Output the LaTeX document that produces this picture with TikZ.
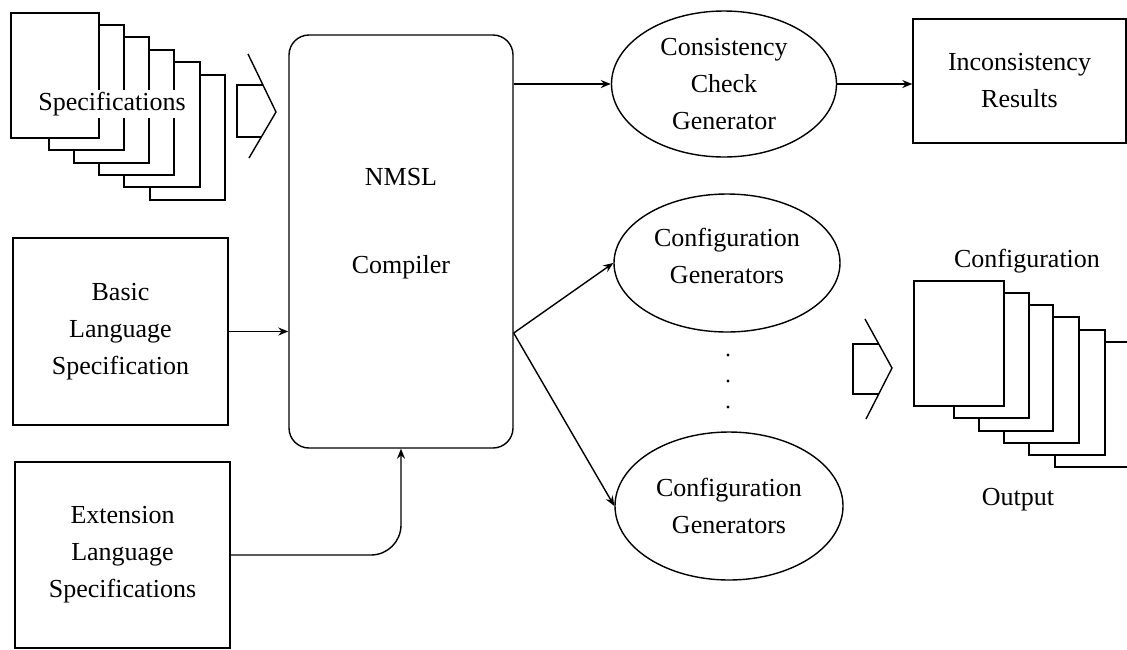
\documentclass[tikz,border=0pt]{standalone}
\usepackage{fontspec}
\setmainfont{Liberation Serif}
\usetikzlibrary{arrows.meta,shapes.geometric,calc}
\begin{document}
\begin{tikzpicture}[x=1pt,y=-1pt, line width=1.4pt,
  font=\fontsize{26}{37}\selectfont,
  box/.style={draw, rectangle, inner sep=0pt, align=center},
  oval/.style={draw, ellipse, inner sep=0pt, align=center},
  page/.style={draw, fill=white},
  chev/.style={draw, line join=miter},
  arr/.style={-{Stealth[length=10pt,width=8pt]}},
  lbl/.style={inner sep=0pt}]
\useasboundingbox (0,0) rectangle (1127,649);

% Specifications stack
\draw[page] (150,75) rectangle (225,200);
\draw[page] (124,62) rectangle (200,187);
\draw[page] (99,50) rectangle (174,175);
\draw[page] (74,37) rectangle (149,163);
\draw[page] (49,25) rectangle (124,150);
\draw[page] (11,13) rectangle (99,138);
\node[lbl, fill=white, inner xsep=1pt, inner ysep=2pt, anchor=base] (spec) at (112,110) {Specifications};

% chevron left
\draw[chev] (248,54) -- (276,112) -- (249,158);
\draw[chev] (263,85) -- (237,85) -- (237,137) -- (261,137);

% compiler
\node[draw, rounded corners=20pt, minimum width=224pt, minimum height=413pt, inner sep=0pt] (comp) at (401,241.5) {};
\node[lbl, anchor=base] (nmsl) at (401,185) {NMSL};
\node[lbl, anchor=base] (compiler) at (401,273) {Compiler};

% left boxes
\node[box, minimum width=215pt, minimum height=187pt] (basic) at (120.5,331.5) {Basic\\Language\\Specification};
\node[box, minimum width=215pt, minimum height=186pt] (ext) at (122.5,555) {Extension\\Language\\Specifications};

% ellipses
\node[oval, minimum width=225pt, minimum height=146pt] (cons) at (724,84) {Consistency\\Check\\Generator};
\node[oval, minimum width=226pt, minimum height=138pt,
  label={[lbl, align=center, yshift=7pt]center:Configuration\\Generators}] (cfg1) at (727,263) {};
\node[oval, minimum width=228pt, minimum height=148pt] (cfg2) at (729,506) {Configuration\\Generators};

% dots
\fill (728,355) circle (1.7pt);
\fill (728,381) circle (1.7pt);
\fill (728,407) circle (1.7pt);

% inconsistency box
\node[box, minimum width=213pt, minimum height=124pt] (incons) at (1019.5,81) {Inconsistency\\Results};

% chevron right
\draw[chev] (865,319) -- (892,368) -- (866,419);
\draw[chev] (879,344) -- (853,344) -- (853,394) -- (879,394);

% configuration stack
\begin{scope}
\clip (0,0) rectangle (1127,649);
\draw[page] (1055,342) rectangle (1135,467);
\draw[page] (1029,330) rectangle (1105,455);
\draw[page] (1004,317) rectangle (1079,443);
\draw[page] (979,305) rectangle (1053,431);
\draw[page] (954,293) rectangle (1029,418);
\draw[page] (914,281) rectangle (1004,406);
\end{scope}
\node[lbl, anchor=base] (cfgtitle) at (1027,267) {Configuration};
\node[lbl, anchor=base] (output) at (1018,505) {Output};

% connectors
\draw[arr] (comp.east |- cons.west) -- (cons.west);
\draw[arr] (cons.east) -- (cons.east -| incons.west);
\draw[arr] (basic.east) -- (basic.east -| comp.west);
\coordinate (split) at ([yshift=-91.5pt]comp.east);
\draw[arr] (split) -- (cfg1.west);
\draw[arr] (split) -- (cfg2.west);
\draw[arr, rounded corners=30pt] (ext.east) -| (comp.south);
\end{tikzpicture}
\end{document}
